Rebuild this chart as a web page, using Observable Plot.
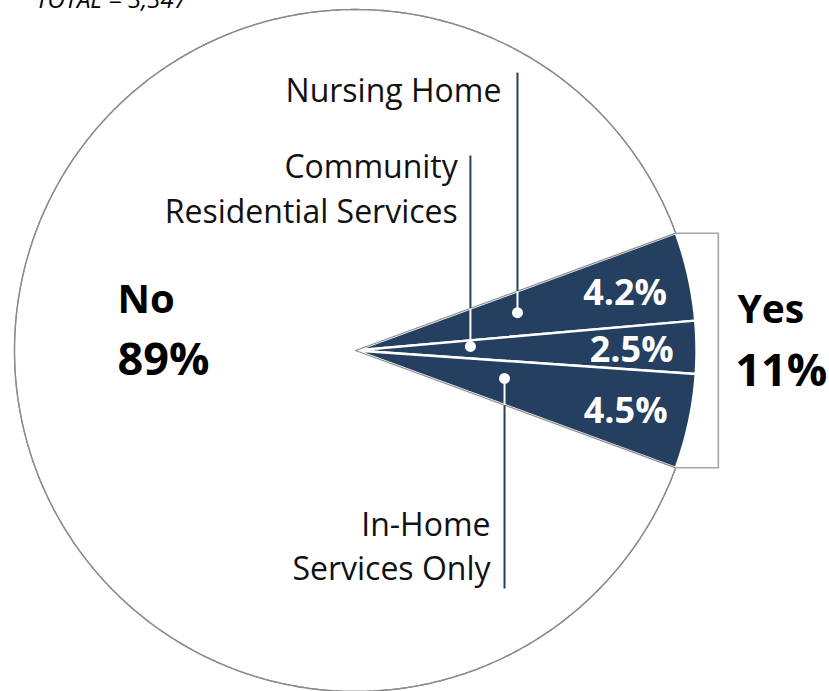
<!DOCTYPE html>
<html>
<head>
<meta charset="utf-8">
<script src="https://cdn.jsdelivr.net/npm/d3@7"></script>
<script src="https://cdn.jsdelivr.net/npm/@observablehq/plot@0.6"></script>
<style>
  body { margin: 0; background: #fff; }
  #chart svg { display: block; overflow: hidden; }
</style>
</head>
<body>
<div id="chart"></div>
<script>
// Service setting of respondents (percent of all respondents)
const categories = ["Nursing Home", "Community Residential Services", "In-Home Services Only", "No"];
const lineLabels = ["Nursing Home", "Community\nResidential Services", "In-Home\nServices Only", "No"];
const shares = [4.2, 2.5, 4.5, 89];
const groupNames = ["No", "Yes"];
const groupShares = [89, 11];
const totalLabel = "TOTAL = 3,347";

const NAVY = "#243F60";
const FONT = "'Open Sans', 'DejaVu Sans', sans-serif";

// Layout of the pie inside the SVG (pixels)
const W = 829, H = 691, CX = 355, CY = 350, R = 341;

// Angles: the "Yes" parts are centred on the 3 o'clock direction
const slices = categories.map((c, i) => ({key: c, label: lineLabels[i], share: shares[i], yes: c !== "No"}));
const yesSum = d3.sum(slices.filter(d => d.yes), d => d.share);
const total = d3.sum(slices, d => d.share);
const yesSpan = 2 * Math.PI * yesSum / total;
const arcs = d3.pie().sort(null).value(d => d.share)
  .startAngle(Math.PI / 2 - yesSpan / 2)
  .endAngle(Math.PI / 2 - yesSpan / 2 + 2 * Math.PI)(slices);

// d3.pie angle (clockwise from 12 o'clock) -> unit-circle point, y up
const pt = (a, r = 1) => ({x: r * Math.sin(a), y: r * Math.cos(a)});

function outline(arc) {
  const pts = [{key: arc.data.key, ...pt(0, 0)}];
  const n = Math.max(4, Math.ceil((arc.endAngle - arc.startAngle) / (Math.PI / 360)));
  for (let i = 0; i <= n; i++) {
    const a = arc.startAngle + (arc.endAngle - arc.startAngle) * i / n;
    pts.push({key: arc.data.key, ...pt(a)});
  }
  pts.push({key: arc.data.key, ...pt(0, 0)});
  return pts;
}

const yesArcs = arcs.filter(a => a.data.yes);
const noArc = arcs.find(a => !a.data.yes);
const yesPts = yesArcs.flatMap(outline);
const noPts = outline(noArc);

// Value labels inside the Yes wedge
const valueLabels = yesArcs.map(a => ({...pt((a.startAngle + a.endAngle) / 2, 0.81), text: a.data.share.toFixed(1) + "%"}));

// Bracket grouping the Yes parts
const topCorner = pt(yesArcs[0].startAngle);
const botCorner = pt(yesArcs[yesArcs.length - 1].endAngle);
const bracketX = 1.064;
const bracket = [topCorner, {x: bracketX, y: topCorner.y}, {x: bracketX, y: botCorner.y}, botCorner];

// Leader lines from the category names into their slices
const halfSpan = yesSpan / 2;
const leaders = [
  {key: "Nursing Home",                   lx: 0.475, dotY: 0.111,  endY: 0.815,  textX: 0.428, textY: 0.730},
  {key: "Community Residential Services", lx: 0.337, dotY: 0.012,  endY: 0.572,  textX: 0.300, textY: 0.375},
  {key: "In-Home Services Only",          lx: 0.437, dotY: -0.082, endY: -0.698, textX: 0.396, textY: -0.674}
].map(d => {
  const edge = (d.endY > 0 ? 1 : -1) * d.lx * Math.tan(halfSpan);
  return {...d, edgeY: edge, label: slices.find(s => s.key === d.key).label};
});

const groupPct = (i) => groupShares[i] + "%";

const chart = Plot.plot({
  width: W,
  height: H,
  margin: 0,
  x: {domain: [-1, 1], range: [CX - R, CX + R], axis: null},
  y: {domain: [-1, 1], range: [CY + R, CY - R], axis: null},
  style: {fontFamily: FONT, background: "white", overflow: "hidden"},
  marks: [
    // No slice
    Plot.line(noPts, {x: "x", y: "y", fill: "white", stroke: "#8c8c8c", strokeWidth: 1.3}),
    // Yes parts
    Plot.line(yesPts, {x: "x", y: "y", z: "key", fill: NAVY, stroke: "white", strokeWidth: 2.4, strokeLinejoin: "round"}),
    // grey radial edges of the No slice over the wedge border
    Plot.line(noPts, {x: "x", y: "y", fill: "none", stroke: "#8c8c8c", strokeWidth: 1.3}),
    // bracket
    Plot.line(bracket, {x: "x", y: "y", stroke: "#a6a6a6", strokeWidth: 1.6}),
    // leaders: navy outside the wedge, white inside
    Plot.link(leaders, {x1: "lx", x2: "lx", y1: "endY", y2: "edgeY", stroke: NAVY, strokeWidth: 2}),
    Plot.link(leaders, {x1: "lx", x2: "lx", y1: "edgeY", y2: "dotY", stroke: "white", strokeWidth: 2}),
    Plot.dot(leaders, {x: "lx", y: "dotY", r: 5.5, fill: "white", stroke: "none"}),
    // category names
    Plot.text(leaders, {x: "textX", y: "textY", text: "label", textAnchor: "end", lineAnchor: "bottom",
      fontSize: 32, lineHeight: 1.4, fill: "#111"}),
    // values in the wedge
    Plot.text(valueLabels, {x: "x", y: "y", text: "text", fill: "white", fontSize: 36, fontWeight: "bold", dy: 3}),
    // group labels
    Plot.text([groupNames[0]], {x: -0.698, y: 0.111, text: d => d, textAnchor: "start", lineAnchor: "bottom",
      fontSize: 40, fontWeight: "bold", fill: "#000"}),
    Plot.text([groupPct(0)], {x: -0.698, y: -0.073, text: d => d, textAnchor: "start", lineAnchor: "bottom",
      fontSize: 45, fontWeight: "bold", fill: "#000"}),
    Plot.text([groupNames[1]], {x: 1.120, y: 0.082, text: d => d, textAnchor: "start", lineAnchor: "bottom",
      fontSize: 39, fontWeight: "bold", fill: "#000"}),
    Plot.text([groupPct(1)], {x: 1.114, y: -0.103, text: d => d, textAnchor: "start", lineAnchor: "bottom",
      fontSize: 45, fontWeight: "bold", fill: "#000"}),
    // total respondents
    Plot.text([totalLabel], {x: -0.938, y: 1.003, text: d => d, textAnchor: "start", lineAnchor: "bottom",
      fontSize: 24, fontStyle: "italic", fill: "#000"})
  ]
});

document.getElementById("chart").append(chart);
</script>
</body>
</html>
